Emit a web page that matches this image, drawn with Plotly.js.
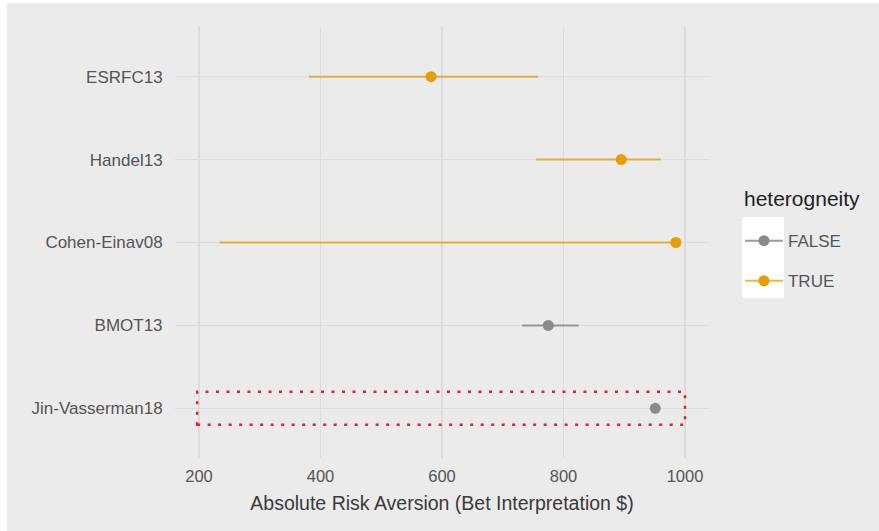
<!DOCTYPE html>
<html>
<head>
<meta charset="utf-8">
<script src="https://cdn.plot.ly/plotly-3.0.1.min.js"></script>
<style>
html,body{margin:0;padding:0;background:#ffffff;}
#wrap{position:absolute;left:7px;top:3px;width:872px;height:528px;}
</style>
</head>
<body>
<div id="wrap"></div>
<script>
// Data (bottom to top order on the y axis)
const studies = ["Jin-Vasserman18", "BMOT13", "Cohen-Einav08", "Handel13", "ESRFC13"];
const estimate = [951, 775, 985, 895, 582];
const ciLow    = [951, 732, 234, 755, 381];
const ciHigh   = [951, 825, 985, 960, 758];
const heterogeneity = [false, false, true, true, true];
const groupNames = ["FALSE", "TRUE"];
const legendTitle = "heterogneity";
const groupColors = {"FALSE": "#8a8a8a", "TRUE": "#E69F00"};
const groupLineColors = {"FALSE": "rgba(138,138,138,0.85)", "TRUE": "rgba(230,159,0,0.75)"};
const highlightStudy = "Jin-Vasserman18";
const highlightX = [197, 1000];

const traces = groupNames.map(g => {
  const x = [], y = [], lo = [], hi = [];
  studies.forEach((s, i) => {
    if (String(heterogeneity[i]).toUpperCase() === g) {
      if (x.length) { x.push(null); y.push(null); lo.push(null); hi.push(null); }
      x.push(estimate[i]); y.push(s);
      lo.push(estimate[i] - ciLow[i]); hi.push(ciHigh[i] - estimate[i]);
    }
  });
  return {
    type: "scatter", mode: "lines+markers", name: g, legendgroup: g,
    x: x, y: y, connectgaps: false,
    marker: {color: groupColors[g], size: 11},
    line: {color: groupLineColors[g], width: 2},
    error_x: {type: "data", symmetric: false, array: hi, arrayminus: lo,
              color: groupLineColors[g], thickness: 2, width: 0},
    hoverinfo: "x+y"
  };
});

const hi = studies.indexOf(highlightStudy);
const layout = {
  width: 872, height: 528,
  paper_bgcolor: "#ebebeb", plot_bgcolor: "#ebebeb",
  margin: {l: 168, r: 170, t: 24, b: 73},
  font: {family: "Liberation Sans, Arial, sans-serif", color: "#4d4d4d"},
  xaxis: {
    range: [160.5, 1039.5], tickvals: [200, 400, 600, 800, 1000],
    showgrid: true, gridcolor: "#dcdcdc", gridwidth: 1.2, zeroline: false,
    ticks: "outside", ticklen: 3, tickcolor: "rgba(0,0,0,0)",
    tickfont: {size: 16.5, color: "#555555"},
    title: {text: "Absolute Risk Aversion (Bet Interpretation $)", font: {size: 19.5, color: "#3a3a3a"}, standoff: 12}
  },
  yaxis: {
    type: "category", categoryorder: "array", categoryarray: studies,
    range: [-0.6, 4.6],
    showgrid: true, gridcolor: "#dcdcdc", gridwidth: 1.2, zeroline: false,
    ticks: "outside", ticklen: 8, tickcolor: "rgba(0,0,0,0)",
    tickfont: {size: 17, color: "#555555"}
  },
  legend: {
    x: 1.058, y: 0.545, xanchor: "left", yanchor: "top",
    bgcolor: "rgba(0,0,0,0)",
    font: {size: 17, color: "#555555"},
    tracegroupgap: 15, itemwidth: 38
  },
  annotations: [
    {xref: "paper", yref: "paper", x: 1.062, y: 0.603, xanchor: "left", yanchor: "middle",
     text: legendTitle, showarrow: false, font: {size: 21, color: "#222222"}}
  ],
  shapes: [
    {type: "rect", xref: "paper", yref: "paper", x0: 1.0618, x1: 1.1404, y0: 0.3712, y1: 0.5592,
     fillcolor: "#ffffff", line: {width: 0}, layer: "below"},
    {type: "rect", xref: "x", yref: "y", x0: highlightX[0], x1: highlightX[1], y0: hi - 0.2, y1: hi + 0.2,
     line: {color: "#e8202a", width: 2.5, dash: "3px,7.5px"}, fillcolor: "rgba(0,0,0,0)"}
  ],
  showlegend: true
};

Plotly.newPlot("wrap", traces, layout, {displayModeBar: false, staticPlot: true});
</script>
</body>
</html>
